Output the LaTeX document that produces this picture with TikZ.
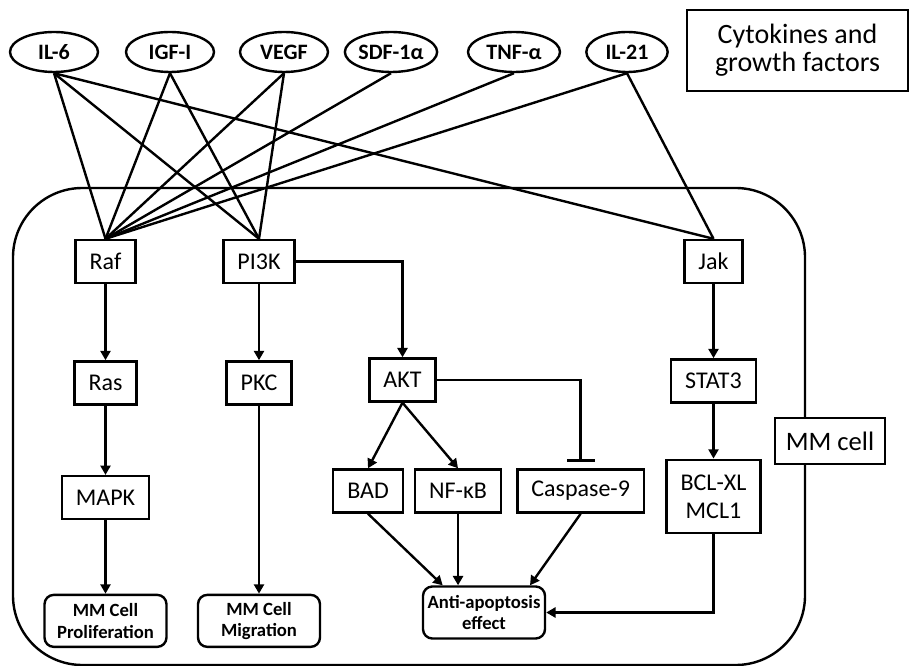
\documentclass[tikz,border=0pt]{standalone}
\usepackage{fontspec}
\setmainfont{Carlito}
\usetikzlibrary{arrows.meta,positioning,shapes.geometric}

\begin{document}
\begin{tikzpicture}[x=0.75pt,y=-0.75pt,line width=1.8pt,
    >={Triangle[length=7pt,width=7.5pt]},
    factor/.style={draw,ellipse,minimum width=66pt,minimum height=30pt,inner sep=0pt,font=\fontsize{16.5}{18}\selectfont\bfseries},
    mol/.style={draw,fill=white,minimum height=32.25pt,inner xsep=10.5pt,inner ysep=0pt,align=center,font=\fontsize{18}{21}\selectfont},
    outcome/.style={draw,rounded corners=7pt,minimum width=91.5pt,minimum height=39pt,align=center,font=\fontsize{14}{16}\selectfont\bfseries}]
    \useasboundingbox (0,0) rectangle (910,666);
    % cell membrane
    \draw[rounded corners=52pt] (13,188) rectangle (805,665);
    \node[factor] (il6) at (54,52) {IL-6};
    \node[factor] (igf) at (170,52) {IGF-I};
    \node[factor] (vegf) at (284,52) {VEGF};
    \node[factor] (sdf) at (391,52) {SDF-1α};
    \node[factor,minimum width=69pt] (tnf) at (514,52) {TNF-α};
    \node[factor,minimum width=61pt] (il21) at (627,52) {IL-21};
    \node[draw,align=center,minimum width=165.75pt,minimum height=60.75pt,font=\fontsize{21}{21}\selectfont] (cyto) at (797.5,50.5) {Cytokines and\\growth factors};
    \node[mol] (raf) at (105.5,261.5) {Raf};
    \node[mol,below=57pt of raf] (ras) {Ras};
    \node[mol,below=52pt of ras] (mapk) {MAPK};
    \node[outcome,below=55pt of mapk] (prolif) {MM Cell\\Proliferation};
    \node[mol] (pi3k) at (259,261.5) {PI3K};
    \node[mol,below=57pt of pi3k] (pkc) {PKC};
    \node[outcome] (migr) at (pkc |- prolif) {MM Cell\\Migration};
    \node[mol] (akt) at (402.5,380) {AKT};
    \node[mol] (bad) at (368,491) {BAD};
    \node[mol,right=7.5pt of bad] (nfkb) {NF-κB};
    \node[mol,right=10.5pt of nfkb] (casp) {Caspase-9};
    \node[outcome] (anti) at (484,612.5) {Anti-apoptosis\\effect};
    \node[mol] (jak) at (713.5,261.5) {Jak};
    \node[mol,below=55.5pt of jak] (stat) {STAT3};
    \node[mol,minimum height=54.75pt,below=41.25pt of stat] (bcl) {BCL-XL\\MCL1};
    \node[mol,font=\fontsize{20}{24}\selectfont,minimum height=34.5pt,inner xsep=8pt] (cell) at (830,441) {MM cell};
    % receptor links
    \foreach \f in {il6,igf,vegf,sdf,tnf,il21}
      \draw (\f.south) -- (raf.north);
    \foreach \f in {il6,igf,vegf}
      \draw (\f.south) -- (pi3k.north);
    \foreach \f in {il6,il21}
      \draw (\f.south) -- (jak.north);
    \draw[->] (raf) -- (ras);
    \draw[->] (ras) -- (mapk);
    \draw[->] (mapk) -- (prolif);
    \draw[->] (pi3k) -- (pkc);
    \draw[->] (pkc) -- (migr);
    \draw[->] (pi3k.east) -| (akt.north);
    \draw[->] (akt.south) -- (bad.north);
    \draw[->] (akt.south) -- (nfkb.north);
    \draw[-{Bar[width=21pt]},shorten >=5pt] (akt.east) -| (casp.north);
    \draw[->] (bad.south) -- ([xshift=-31pt]anti.north);
    \draw[->] (nfkb.south) -- (nfkb.south |- anti.north);
    \draw[->] (casp.south) -- ([xshift=34.5pt]anti.north);
    \draw[->] (jak) -- (stat);
    \draw[->] (stat) -- (bcl);
    \draw[->] (bcl.south) |- (anti.east);
  \end{tikzpicture}
\end{document}
